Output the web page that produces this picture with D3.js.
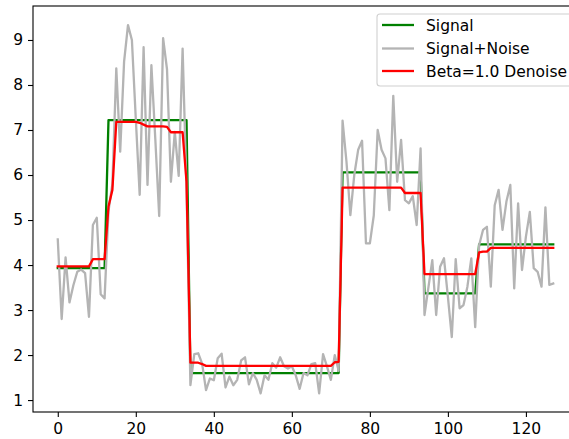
<!DOCTYPE html>
<html>
<head>
<meta charset="utf-8">
<script src="https://cdn.jsdelivr.net/npm/d3@7"></script>
<style>
  html, body { margin: 0; padding: 0; background: #fff; overflow: hidden; }
  svg { display: block; font-family: "DejaVu Sans", sans-serif; }
</style>
</head>
<body>
<svg id="chart" width="569" height="439"></svg>
<script>
// Sample index 0..127
const xTicks = [0, 20, 40, 60, 80, 100, 120];
const yTicks = [1, 2, 3, 4, 5, 6, 7, 8, 9];

// Clean piecewise-constant signal
const signal = [
  3.93, 3.93, 3.93, 3.93, 3.93, 3.93, 3.93, 3.93, 3.93, 3.93, 3.93, 3.93, 3.93,
  7.22, 7.22, 7.22, 7.22, 7.22, 7.22, 7.22, 7.22, 7.22, 7.22, 7.22, 7.22, 7.22,
  7.22, 7.22, 7.22, 7.22, 7.22, 7.22, 7.22, 7.22,
  1.60, 1.60, 1.60, 1.60, 1.60, 1.60, 1.60, 1.60, 1.60, 1.60, 1.60, 1.60, 1.60,
  1.60, 1.60, 1.60, 1.60, 1.60, 1.60, 1.60, 1.60, 1.60, 1.60, 1.60, 1.60, 1.60,
  1.60, 1.60, 1.60, 1.60, 1.60, 1.60, 1.60, 1.60, 1.60, 1.60, 1.60, 1.60, 1.60,
  6.06, 6.06, 6.06, 6.06, 6.06, 6.06, 6.06, 6.06, 6.06, 6.06, 6.06, 6.06, 6.06,
  6.06, 6.06, 6.06, 6.06, 6.06, 6.06, 6.06, 6.06,
  3.37, 3.37, 3.37, 3.37, 3.37, 3.37, 3.37, 3.37, 3.37, 3.37, 3.37, 3.37, 3.37, 3.37,
  4.46, 4.46, 4.46, 4.46, 4.46, 4.46, 4.46, 4.46, 4.46, 4.46, 4.46, 4.46, 4.46,
  4.46, 4.46, 4.46, 4.46, 4.46, 4.46, 4.46
];

// Signal with additive noise
const noisy = [
  4.57, 2.80, 4.17, 3.17, 3.55, 3.85, 3.90, 3.82, 2.85, 4.89, 5.05, 3.35, 3.26,
  5.20, 5.80, 8.37, 6.52, 8.52, 9.33, 9.00, 7.25, 5.56, 8.84, 5.78, 8.44, 6.80,
  5.09, 9.04, 8.35, 5.85, 6.96, 5.98, 8.81, 5.70,
  1.33, 2.02, 2.04, 1.81, 1.22, 1.48, 1.44, 1.93, 2.03, 1.28, 1.52, 1.33, 1.45,
  1.88, 1.95, 1.35, 1.60, 1.45, 1.15, 1.55, 1.45, 1.82, 1.72, 1.95, 1.75, 1.70,
  1.75, 1.55, 1.25, 1.60, 1.55, 1.80, 1.82, 1.15, 2.02, 1.75, 1.45, 2.00, 1.65,
  7.21, 6.30, 5.11, 6.00, 6.56, 6.76, 4.48, 4.48, 5.10, 7.00, 6.56, 6.37, 5.22,
  7.76, 5.85, 6.78, 5.44, 5.37, 5.53, 4.89, 6.59,
  2.89, 3.50, 4.11, 2.89, 3.96, 4.15, 3.30, 2.40, 4.13, 3.04, 3.11, 3.52, 4.15, 2.62,
  4.44, 4.78, 4.85, 3.52, 5.33, 5.67, 4.78, 5.41, 5.78, 3.48, 5.37, 3.89, 4.63,
  5.18, 3.93, 3.85, 3.52, 5.28, 3.56, 3.59
];

// Denoised estimate (beta = 1.0)
const denoised = [
  3.97, 3.97, 3.97, 3.97, 3.97, 3.97, 3.97, 3.97, 3.97, 4.13, 4.13, 4.13, 4.13,
  5.30, 5.67, 7.18, 7.18, 7.18, 7.18, 7.18, 7.18, 7.16, 7.12, 7.08, 7.08, 7.08,
  7.08, 7.08, 7.07, 6.95, 6.95, 6.95, 6.95, 5.85,
  1.83, 1.83, 1.83, 1.80, 1.76, 1.76, 1.76, 1.76, 1.76, 1.76, 1.76, 1.76, 1.76,
  1.76, 1.76, 1.76, 1.76, 1.76, 1.76, 1.76, 1.76, 1.76, 1.76, 1.76, 1.76, 1.76,
  1.76, 1.76, 1.76, 1.76, 1.76, 1.76, 1.76, 1.76, 1.76, 1.76, 1.76, 1.84, 1.85,
  5.72, 5.72, 5.72, 5.72, 5.72, 5.72, 5.72, 5.72, 5.72, 5.72, 5.72, 5.72, 5.72,
  5.72, 5.72, 5.72, 5.60, 5.60, 5.60, 5.60, 5.60,
  3.80, 3.80, 3.80, 3.80, 3.80, 3.80, 3.80, 3.80, 3.80, 3.80, 3.80, 3.80, 3.80, 3.80,
  4.28, 4.30, 4.30, 4.38, 4.38, 4.38, 4.38, 4.38, 4.38, 4.38, 4.38, 4.38, 4.38,
  4.38, 4.38, 4.38, 4.38, 4.38, 4.38, 4.38
];

const seriesNames = ["Signal", "Signal+Noise", "Beta=1.0 Denoise"];
const seriesColors = ["#008000", "#b4b4b4", "#ff0000"];

const svg = d3.select("#chart");
const plot = { left: 33, right: 578, top: 6, bottom: 412 };

const x = d3.scaleLinear().domain([-6.35, 133.35]).range([plot.left, plot.right]);
const y = d3.scaleLinear().domain([0.735, 9.755]).range([plot.bottom, plot.top]);

const line = d3.line().x((d, i) => x(i)).y(d => y(d));

const clip = svg.append("clipPath").attr("id", "plotclip")
  .append("rect")
  .attr("x", plot.left).attr("y", plot.top)
  .attr("width", plot.right - plot.left).attr("height", plot.bottom - plot.top);

const lines = svg.append("g").attr("clip-path", "url(#plotclip)");
[signal, noisy, denoised].forEach((data, k) => {
  lines.append("path")
    .datum(data)
    .attr("d", line)
    .attr("fill", "none")
    .attr("stroke", seriesColors[k])
    .attr("stroke-width", 2.3)
    .attr("stroke-linejoin", "round")
    .attr("stroke-linecap", "square");
});

// Axes
const fontSize = 15.5;
const xAxis = svg.append("g")
  .attr("transform", `translate(0,${plot.bottom})`)
  .call(d3.axisBottom(x).tickValues(xTicks).tickSize(5).tickPadding(6).tickFormat(d3.format("d")));
const yAxis = svg.append("g")
  .attr("transform", `translate(${plot.left},0)`)
  .call(d3.axisLeft(y).tickValues(yTicks).tickSize(5).tickPadding(5).tickFormat(d3.format("d")));

[xAxis, yAxis].forEach(g => {
  g.select(".domain").remove();
  g.selectAll(".tick line").attr("stroke", "#000").attr("stroke-width", 1.1);
  g.selectAll(".tick text")
    .attr("fill", "#000")
    .style("font-size", fontSize + "px")
    .style("font-family", "'DejaVu Sans', sans-serif");
});

// Frame
svg.append("rect")
  .attr("x", plot.left).attr("y", plot.top)
  .attr("width", plot.right - plot.left).attr("height", plot.bottom - plot.top)
  .attr("fill", "none").attr("stroke", "#000").attr("stroke-width", 1.1);

// Legend
const legend = svg.append("g");
legend.append("rect")
  .attr("x", 377).attr("y", 14).attr("width", 196).attr("height", 72)
  .attr("rx", 3).attr("ry", 3)
  .attr("fill", "#fff").attr("fill-opacity", 0.8)
  .attr("stroke", "#d0d0d0").attr("stroke-width", 1.1);
const rowY = [25, 48.5, 71];
seriesNames.forEach((name, k) => {
  legend.append("line")
    .attr("x1", 382).attr("x2", 414)
    .attr("y1", rowY[k]).attr("y2", rowY[k])
    .attr("stroke", seriesColors[k]).attr("stroke-width", 2.3);
  legend.append("text")
    .attr("x", 426).attr("y", rowY[k])
    .attr("dy", "0.36em")
    .style("font-size", fontSize + "px")
    .attr("fill", "#000")
    .text(name);
});
</script>
</body>
</html>
